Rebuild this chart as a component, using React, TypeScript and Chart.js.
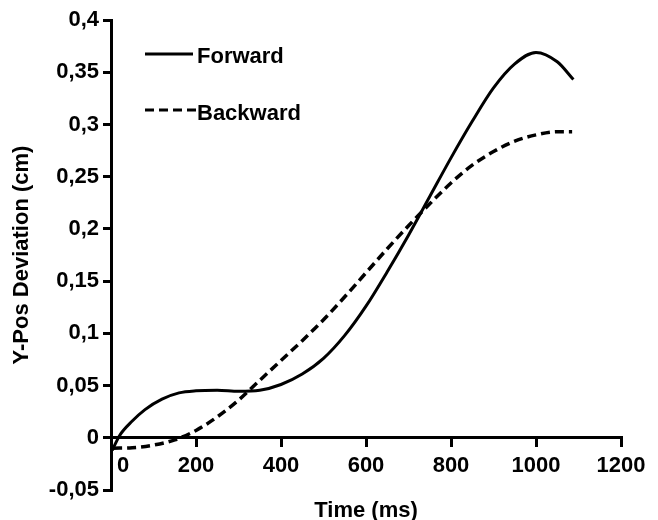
import React, { useEffect, useRef } from "react";
import { Chart, registerables } from "chart.js";

Chart.register(...registerables);

const forwardTime = [3, 20, 50, 80, 120, 160, 200, 250, 300, 350, 400, 450, 500, 550, 600, 650, 700, 750, 800, 850, 900, 950, 1000, 1050, 1088];
const forwardValues = [-0.012, 0.002, 0.016, 0.027, 0.037, 0.043, 0.045, 0.0455, 0.0445, 0.0455, 0.051, 0.061, 0.076, 0.098, 0.126, 0.159, 0.194, 0.231, 0.268, 0.303, 0.335, 0.358, 0.369, 0.36, 0.343];

const backwardTime = [5, 50, 100, 150, 200, 250, 300, 350, 400, 450, 500, 550, 600, 650, 700, 750, 800, 850, 900, 950, 1000, 1050, 1085];
const backwardValues = [-0.01, -0.0095, -0.007, -0.002, 0.007, 0.02, 0.036, 0.055, 0.074, 0.093, 0.113, 0.135, 0.158, 0.181, 0.203, 0.224, 0.244, 0.261, 0.274, 0.284, 0.29, 0.293, 0.293];

const seriesNames = ["Forward", "Backward"];
const xTickLabels = ["    0", "200", "400", "600", "800", "1000", "1200"];
const xTickValues = [0, 200, 400, 600, 800, 1000, 1200];
const yTickLabels = ["-0,05", "0", "0,05", "0,1", "0,15", "0,2", "0,25", "0,3", "0,35", "0,4"];
const yTickValues = [-0.05, 0, 0.05, 0.1, 0.15, 0.2, 0.25, 0.3, 0.35, 0.4];

const FONT = "'Liberation Sans', Arial, sans-serif";
const FSIZE = 22;
const DASH = [9, 5];

const legendPlugin = {
  id: "customLegend",
  afterDraw(chart: any) {
    const ctx = chart.ctx;
    ctx.save();
    ctx.strokeStyle = "#000";
    ctx.fillStyle = "#000";
    ctx.lineWidth = 3;
    ctx.font = `bold ${FSIZE}px ${FONT}`;
    ctx.textBaseline = "alphabetic";
    ctx.textAlign = "left";
    ctx.setLineDash([]);
    ctx.beginPath();
    ctx.moveTo(145, 54);
    ctx.lineTo(193, 54);
    ctx.stroke();
    ctx.fillText(seriesNames[0], 197, 63);
    ctx.setLineDash(DASH);
    ctx.beginPath();
    ctx.moveTo(145, 110);
    ctx.lineTo(196, 110);
    ctx.stroke();
    ctx.setLineDash([]);
    ctx.fillText(seriesNames[1], 197, 120);
    ctx.restore();
  },
};

function nearestLabel(values: number[], labels: string[], v: number) {
  for (let i = 0; i < values.length; i++) {
    if (Math.abs(values[i] - v) < 1e-6) return labels[i];
  }
  return "";
}

export default function App() {
  const canvasRef = useRef<HTMLCanvasElement | null>(null);

  useEffect(() => {
    document.body.style.margin = "0";
    const canvas = canvasRef.current;
    if (!canvas) return;
    const tickFont = { family: FONT, size: FSIZE, weight: "bold" };
    const chart = new Chart(canvas, {
      type: "line",
      data: {
        datasets: [
          {
            label: seriesNames[0],
            data: forwardTime.map((t, i) => ({ x: t, y: forwardValues[i] })),
            borderColor: "#000",
            borderWidth: 3,
            pointRadius: 0,
            fill: false,
            cubicInterpolationMode: "monotone",
          },
          {
            label: seriesNames[1],
            data: backwardTime.map((t, i) => ({ x: t, y: backwardValues[i] })),
            borderColor: "#000",
            borderWidth: 3.5,
            borderDash: DASH,
            pointRadius: 0,
            fill: false,
            cubicInterpolationMode: "monotone",
          },
        ],
      },
      options: {
        responsive: false,
        animation: false,
        layout: { padding: { top: 20, right: 37, bottom: 30, left: 0 } },
        plugins: {
          legend: { display: false },
          tooltip: { enabled: false },
        },
        scales: {
          x: {
            type: "linear",
            position: { y: 0 },
            min: 0,
            max: 1200,
            afterBuildTicks: (scale: any) => {
              scale.ticks = xTickValues.map((v) => ({ value: v }));
            },
            ticks: {
              color: "#000",
              font: tickFont,
              padding: 7,
              maxRotation: 0,
              autoSkip: false,
              callback: (v: any) => nearestLabel(xTickValues, xTickLabels, Number(v)),
            },
            grid: {
              drawOnChartArea: false,
              drawTicks: true,
              tickLength: 8,
              color: "#000",
              lineWidth: 3,
            },
            border: { display: true, color: "#000", width: 3 },
            title: {
              display: true,
              text: "Time (ms)",
              color: "#000",
              font: tickFont,
              padding: { top: 12, bottom: 0 },
            },
          },
          y: {
            type: "linear",
            position: "left",
            min: -0.05,
            max: 0.4,
            afterBuildTicks: (scale: any) => {
              scale.ticks = yTickValues.map((v) => ({ value: v }));
            },
            afterFit: (scale: any) => {
              scale.width = 111;
            },
            ticks: {
              color: "#000",
              font: tickFont,
              padding: 4,
              autoSkip: false,
              callback: (v: any) => nearestLabel(yTickValues, yTickLabels, Number(v)),
            },
            grid: {
              drawOnChartArea: false,
              drawTicks: true,
              tickLength: 8,
              color: "#000",
              lineWidth: 3,
            },
            border: { display: true, color: "#000", width: 3 },
            title: {
              display: true,
              text: "Y-Pos Deviation (cm)",
              color: "#000",
              font: tickFont,
              padding: { top: 9, bottom: 10 },
            },
          },
        },
      },
      plugins: [legendPlugin],
    } as any);
    return () => chart.destroy();
  }, []);

  return (
    <div style={{ width: 658, height: 520 }}>
      <canvas ref={canvasRef} width={658} height={520} style={{ display: "block" }} />
    </div>
  );
}
